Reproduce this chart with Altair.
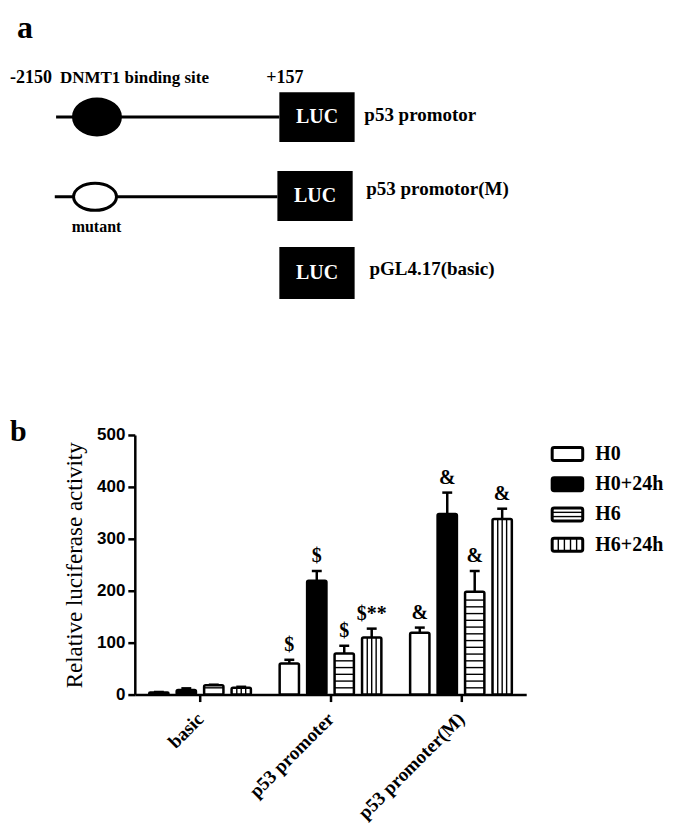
import altair as alt
import numpy as np
import pandas as pd

SERIF = "Liberation Serif"
SANS = "Liberation Sans"

# ---------------- panel b : values ----------------
categories = ["basic", "p53 promoter", "p53 promoter(M)"]
series_names = ["H0", "H0+24h", "H6", "H6+24h"]
basic_mean = [4, 9, 18, 13]
basic_err = [1, 3, 1, 2]
p53_mean = [60, 219, 79, 110]
p53_err = [7, 19, 15, 17]
p53m_mean = [119, 348, 198, 338]
p53m_err = [10, 41, 40, 20]
basic_sig = ["", "", "", ""]
p53_sig = ["$", "$", "$", "$**"]
p53m_sig = ["&", "&", "&", "&"]
y_ticks = [0, 100, 200, 300, 400, 500]
y_title = "Relative luciferase activity"
panel_b_label = "b"

# ---------------- panel a : schematic texts ----------------
panel_a_label = "a"
construct_labels = ["p53 promotor", "p53 promotor(M)", "pGL4.17(basic)"]
reporter = "LUC"
coord_labels = ["-2150", "DNMT1 binding site", "+157"]
mutant_label = "mutant"

# ---------------- panel a : schematic layout (units 0-100) ----------------
box_x1 = [41.5, 41.2, 41.5]
box_x2 = [53.1, 52.8, 53.1]
box_y1 = [27.0, 52.5, 77.0]
box_y2 = [43.1, 68.6, 93.8]
label_x = [54.6, 54.9, 55.4]
label_y = [36.2, 60.1, 85.9]
promoter_x1 = [7.1, 6.9]
promoter_x2 = [41.5, 41.2]
promoter_y = [35.0, 60.8]
site_x = [13.4, 13.1]
coord_x = [0.0, 7.7, 39.5]
coord_y = 24.0
mutant_xy = (9.5, 72.1)
a_xy = (1.08, 9.35)

# ---------------- styling / layout constants ----------------
BAR_STEP = 0.2105
BAR_W = 0.148
CAP = 0.038
STRIPE = 13.0
FILLS = ["white", "black", "white", "white"]
U0 = 19.23          # schematic unit at the shared left edge of the plot areas
DIAG_W = 520

XA = alt.Scale(domain=[U0, U0 + DIAG_W / 6.5], nice=False, zero=False)
YA = alt.Scale(domain=[0, 100], nice=False, zero=False, reverse=True)


def ax(f):
    return alt.X(f, type="quantitative", scale=XA, axis=None)


def ay(f):
    return alt.Y(f, type="quantitative", scale=YA, axis=None)


# ---- diagram layers ----
lines_df = pd.DataFrame({"x1": promoter_x1, "x2": promoter_x2, "y": promoter_y})
line_layer = alt.Chart(lines_df).mark_rule(color="black", strokeWidth=3).encode(
    x=ax("x1"), x2="x2", y=ay("y"))

site_filled = pd.DataFrame({"x": [site_x[0]], "y": [promoter_y[0]]})
site_open = pd.DataFrame({"x": [site_x[1]], "y": [promoter_y[1]]})
ELL1 = "M -1 0 A 1 0.77 0 1 1 1 0 A 1 0.77 0 1 1 -1 0 Z"
ELL2 = "M -1 0 A 1 0.63 0 1 1 1 0 A 1 0.63 0 1 1 -1 0 Z"
ell1 = alt.Chart(site_filled).mark_point(shape=ELL1, size=2304, filled=True, fill="black",
                                         stroke="black", opacity=1).encode(x=ax("x"), y=ay("y"))
ell2 = alt.Chart(site_open).mark_point(shape=ELL2, size=1849, filled=True, fill="white",
                                       stroke="black", strokeWidth=3, opacity=1).encode(x=ax("x"), y=ay("y"))

boxes_df = pd.DataFrame({"x1": box_x1, "x2": box_x2, "y1": box_y1, "y2": box_y2,
                         "label": construct_labels, "lx": label_x, "ly": label_y})
boxes_df["cx"] = (boxes_df["x1"] + boxes_df["x2"]) / 2
boxes_df["cy"] = (boxes_df["y1"] + boxes_df["y2"]) / 2
boxes_df["reporter"] = reporter
box_layer = alt.Chart(boxes_df).mark_rect(color="black").encode(
    x=ax("x1"), x2="x2", y=ay("y1"), y2="y2")
luc_layer = alt.Chart(boxes_df).mark_text(color="white", font=SERIF, fontWeight="bold", fontSize=20,
                                          align="center", baseline="middle").encode(
    x=ax("cx"), y=ay("cy"), text="reporter:N")
name_layer = alt.Chart(boxes_df).mark_text(color="black", font=SERIF, fontWeight="bold", fontSize=19,
                                           align="left", baseline="alphabetic").encode(
    x=ax("lx"), y=ay("ly"), text="label:N")

coord_df = pd.DataFrame({"x": coord_x, "y": [coord_y] * 3, "t": coord_labels,
                         "fs": [18, 17, 18]})
coord_layer = alt.Chart(coord_df).mark_text(color="black", font=SERIF, fontWeight="bold",
                                            align="left", baseline="alphabetic").encode(
    x=ax("x"), y=ay("y"), text="t:N", size=alt.Size("fs:Q", scale=None, legend=None))
mut_df = pd.DataFrame({"x": [mutant_xy[0]], "y": [mutant_xy[1]], "t": [mutant_label]})
mut_layer = alt.Chart(mut_df).mark_text(color="black", font=SERIF, fontWeight="bold", fontSize=16,
                                        align="left", baseline="alphabetic").encode(
    x=ax("x"), y=ay("y"), text="t:N")
a_df = pd.DataFrame({"x": [a_xy[0]], "y": [a_xy[1]], "t": [panel_a_label]})
a_layer = alt.Chart(a_df).mark_text(color="black", font=SERIF, fontWeight="bold", fontSize=32,
                                    align="left", baseline="alphabetic").encode(
    x=ax("x"), y=ay("y"), text="t:N")

diagram = alt.layer(line_layer, ell1, ell2, box_layer, luc_layer, name_layer,
                    coord_layer, mut_layer, a_layer).properties(width=DIAG_W, height=310)

# ---- bar chart data ----
rows = []
for gi, (cat, means, errs, sigs) in enumerate(zip(
        categories, [basic_mean, p53_mean, p53m_mean],
        [basic_err, p53_err, p53m_err], [basic_sig, p53_sig, p53m_sig])):
    for si, s in enumerate(series_names):
        c = gi + (si - 1.5) * BAR_STEP
        rows.append(dict(cat=cat, series=s, center=c, x1=c - BAR_W / 2, x2=c + BAR_W / 2,
                         cl=c - CAP, cr=c + CAP, mean=means[si],
                         top=means[si] + errs[si], sig=sigs[si], zero=0))
bars_df = pd.DataFrame(rows)

hs, vs = [], []
for _, r in bars_df.iterrows():
    if r["series"] == series_names[2]:
        ys = np.arange(STRIPE, r["mean"] - 3, STRIPE)
        if len(ys) == 0:
            ys = [r["mean"] / 2]
        for yv in ys:
            hs.append(dict(x1=r["x1"], x2=r["x2"], y=yv))
    if r["series"] == series_names[3]:
        for f in (0.27, 0.5, 0.73):
            vs.append(dict(x=r["x1"] + f * BAR_W, y1=0, y2=r["mean"]))
h_df = pd.DataFrame(hs)
v_df = pd.DataFrame(vs)

XS = alt.Scale(domain=[-0.5, 2.5], nice=False, zero=False)
YS = alt.Scale(domain=[0, 500], nice=False)

label_expr = " : ".join(
    [f"datum.value == {i} ? '{c}'" for i, c in enumerate(categories[:-1])] + [f"'{categories[-1]}'"])

x_axis = alt.Axis(values=[0, 1, 2], labelExpr=label_expr, labelAngle=-45, labelAlign="right",
                  labelBaseline="middle", labelFont=SERIF, labelFontWeight="bold", labelFontSize=19,
                  labelColor="black", labelPadding=14, tickSize=7, tickWidth=2.5, tickColor="black",
                  domainColor="black", domainWidth=2.5, grid=False, title=None, labelOverlap=False)
y_axis = alt.Axis(values=y_ticks, title=y_title, titleFont=SERIF, titleFontSize=23,
                  titleFontWeight="normal", titleColor="black", titlePadding=10,
                  labelFont=SANS, labelFontWeight="bold", labelFontSize=17, labelColor="black",
                  labelPadding=3, tickSize=7, tickWidth=2.5, tickColor="black",
                  domainColor="black", domainWidth=2.5, grid=False)


def bx(f):
    return alt.X(f, type="quantitative", scale=XS, axis=x_axis)


def by(f):
    return alt.Y(f, type="quantitative", scale=YS, axis=y_axis)


fill_scale = alt.Scale(domain=series_names, range=FILLS)

bar_layer = alt.Chart(bars_df).mark_rect(stroke="black", strokeWidth=2.5, cornerRadius=1.5).encode(
    x=bx("x1"), x2="x2", y=by("mean"), y2="zero",
    fill=alt.Fill("series:N", scale=fill_scale, legend=None))
h_layer = alt.Chart(h_df).mark_rule(color="black", strokeWidth=1.4).encode(
    x=bx("x1"), x2="x2", y=by("y"))
v_layer = alt.Chart(v_df).mark_rule(color="black", strokeWidth=1.4).encode(
    x=bx("x"), y=by("y1"), y2="y2")
err_layer = alt.Chart(bars_df).mark_rule(color="black", strokeWidth=2.5).encode(
    x=bx("center"), y=by("mean"), y2="top")
cap_layer = alt.Chart(bars_df).mark_rule(color="black", strokeWidth=2.5).encode(
    x=bx("cl"), x2="cr", y=by("top"))
sig_layer = alt.Chart(bars_df).mark_text(color="black", font=SERIF, fontWeight="bold", fontSize=20,
                                         align="center", baseline="alphabetic", dy=-9).encode(
    x=bx("center"), y=by("top"), text="sig:N")

bars = alt.layer(bar_layer, h_layer, v_layer, err_layer, cap_layer, sig_layer).properties(
    width=392, height=260,
    title=alt.TitleParams(text=panel_b_label, anchor="start", frame="group", font=SERIF,
                          fontSize=30, fontWeight="bold", color="black", dx=-125, dy=45,
                          offset=0, baseline="alphabetic"))

# ---- legend (drawn from the series list) ----
BOX_W = 2.55
BOX_H = 0.215
leg_df = pd.DataFrame({"series": series_names, "row": list(range(len(series_names)))})
leg_df["x1"] = 0.0
leg_df["x2"] = BOX_W
leg_df["y1"] = leg_df["row"] - BOX_H
leg_df["y2"] = leg_df["row"] + BOX_H
leg_df["tx"] = 3.6
lh = pd.DataFrame([dict(x1=0.0, x2=BOX_W, y=2 + d) for d in (-0.07, 0.07)])
lv = pd.DataFrame([dict(x=BOX_W * f, y1=3 - BOX_H, y2=3 + BOX_H) for f in (0.2, 0.4, 0.6, 0.8)])

LX = alt.Scale(domain=[0, 115 / 12], nice=False, zero=False)
LY = alt.Scale(domain=[-0.63, 3.5], nice=False, zero=False, reverse=True)

leg_box = alt.Chart(leg_df).mark_rect(stroke="black", strokeWidth=3, cornerRadius=2).encode(
    x=alt.X("x1:Q", scale=LX, axis=None), x2="x2",
    y=alt.Y("y1:Q", scale=LY, axis=None), y2="y2",
    fill=alt.Fill("series:N", scale=fill_scale, legend=None))
leg_h = alt.Chart(lh).mark_rule(color="black", strokeWidth=1.4).encode(
    x=alt.X("x1:Q", scale=LX, axis=None), x2="x2", y=alt.Y("y:Q", scale=LY, axis=None))
leg_v = alt.Chart(lv).mark_rule(color="black", strokeWidth=1.4).encode(
    x=alt.X("x:Q", scale=LX, axis=None), y=alt.Y("y1:Q", scale=LY, axis=None), y2="y2")
leg_txt = alt.Chart(leg_df).mark_text(color="black", font=SERIF, fontWeight="bold", fontSize=20,
                                      align="left", baseline="middle").encode(
    x=alt.X("tx:Q", scale=LX, axis=None), y=alt.Y("row:Q", scale=LY, axis=None), text="series:N")
legend = alt.layer(leg_box, leg_h, leg_v, leg_txt).properties(width=115, height=125)

chart = alt.vconcat(
    diagram,
    alt.hconcat(bars, legend, spacing=24),
    spacing=99,
).properties(
    padding={"left": 2, "top": 0, "right": 0, "bottom": 0}
).configure_view(stroke=None)

chart.save("out.html", embed_options={"renderer": "svg", "actions": False})
